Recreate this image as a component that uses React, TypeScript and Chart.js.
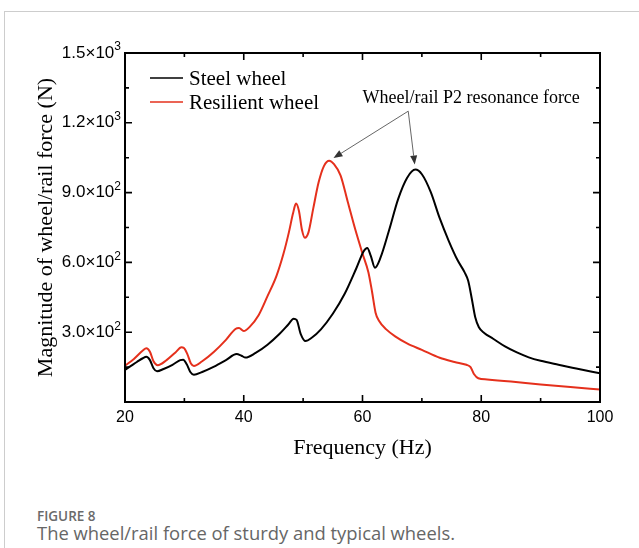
import { useEffect, useRef } from 'react';
import { Chart, registerables } from 'chart.js';

Chart.register(...registerables);

// ---- data ----
const steelFrequency = [
  20, 21, 22, 23, 23.6, 24.2, 24.8, 25.4, 26.5, 28, 29.3, 29.8, 30.4, 31, 31.6, 33, 35, 37, 38.8, 39.6,
  40.3, 42, 44, 46, 47.5, 48.4, 48.9, 49.6, 50.4, 51.5, 53, 55, 57, 59, 60.2, 60.8, 61.4, 62.1, 63, 64.5,
  66, 67.5, 68.9, 70, 71.5, 73, 74.5, 76, 77.2, 77.8, 78.4, 79, 79.6, 80.5, 82, 84, 86, 88, 90, 93, 96, 100,
];
const steelWheel = [
  138, 155, 172, 188, 194, 180, 145, 132, 142, 160, 180, 182, 162, 129, 117, 129, 152, 180, 206, 199,
  191, 211, 246, 292, 333, 358, 353, 292, 262, 277, 312, 379, 465, 577, 648, 662, 628, 577, 618, 740,
  872, 963, 999, 979, 902, 790, 694, 610, 557, 521, 445, 363, 321, 297, 272, 239, 213, 192, 177, 160, 144, 123,
];
const resilientFrequency = [
  20, 21.5, 23, 23.6, 24.2, 24.8, 25.5, 27, 28.5, 29.5, 29.9, 30.5, 31.1, 31.6, 33, 35, 37, 38.6, 39.2, 40,
  41, 42.5, 44, 45.5, 46.7, 47.6, 48.3, 48.8, 49.3, 49.8, 50.3, 50.9, 51.7, 52.6, 53.5, 54.4, 55.2, 56.3,
  57.5, 58.8, 60, 61, 61.6, 62.2, 62.8, 64, 65.5, 67.5, 70, 73, 75.5, 77.5, 78.2, 78.8, 79.5, 81, 85, 90, 95, 100,
];
const resilientWheel = [
  156, 185, 221, 231, 216, 175, 158, 180, 213, 235, 233, 206, 165, 155, 175, 216, 267, 314, 318, 305,
  323, 373, 455, 541, 638, 729, 811, 853, 821, 740, 706, 729, 831, 943, 1014, 1037, 1022, 974,
  862, 740, 638, 557, 475, 384, 348, 312, 282, 252, 224, 190, 172, 160, 150, 119, 102, 97, 88, 75, 64, 54,
];
const seriesNames = ['Steel wheel', 'Resilient wheel'];
const seriesColors = ['#000000', '#e5301c'];

const xMajorTicks = [20, 40, 60, 80, 100];
const xMinorTicks = [30, 50, 70, 90];
const yMajorTicks = [300, 600, 900, 1200, 1500];
const yMinorTicks = [150, 450, 750, 1050, 1350];
const yTickMantissas = ['3.0', '6.0', '9.0', '1.2', '1.5'];
const yTickExponents = ['2', '2', '2', '3', '3'];

const annotationText = 'Wheel/rail P2 resonance force';
const annotationTextAt = { x: 78.3, y: 1306 };
const annotationArrowFrom = { x: 67.7, y: 1250 };

const SERIF = '"Liberation Serif", "Times New Roman", serif';
const SANS = '"Liberation Sans", Arial, sans-serif';

const framePlugin = {
  id: 'frameAndExtras',
  afterDatasetsDraw(chart: any) {
    const { ctx, chartArea: a, scales } = chart;
    const xs = scales.x;
    const ys = scales.y;
    ctx.save();
    // frame
    ctx.strokeStyle = '#000';
    ctx.lineWidth = 2;
    ctx.strokeRect(a.left, a.top, a.right - a.left, a.bottom - a.top);
    // inward ticks
    ctx.lineWidth = 1.6;
    const xt = (v: number, len: number) => {
      const px = xs.getPixelForValue(v);
      ctx.beginPath();
      ctx.moveTo(px, a.bottom);
      ctx.lineTo(px, a.bottom - len);
      ctx.moveTo(px, a.top);
      ctx.lineTo(px, a.top + len);
      ctx.stroke();
    };
    const yt = (v: number, len: number) => {
      const py = ys.getPixelForValue(v);
      ctx.beginPath();
      ctx.moveTo(a.left, py);
      ctx.lineTo(a.left + len, py);
      ctx.moveTo(a.right, py);
      ctx.lineTo(a.right - len, py);
      ctx.stroke();
    };
    xMajorTicks.forEach((v) => xt(v, 7));
    xMinorTicks.forEach((v) => xt(v, 4));
    yMajorTicks.forEach((v) => yt(v, 7));
    yMinorTicks.forEach((v) => yt(v, 4));

    // y tick labels with superscript exponents
    ctx.fillStyle = '#000';
    ctx.textAlign = 'left';
    ctx.textBaseline = 'middle';
    yMajorTicks.forEach((v, i) => {
      const py = ys.getPixelForValue(v);
      const base = `${yTickMantissas[i]}×10`;
      ctx.font = `12px ${SANS}`;
      const supW = ctx.measureText(yTickExponents[i]).width;
      ctx.font = `17px ${SANS}`;
      const baseW = ctx.measureText(base).width;
      const right = a.left - 4;
      ctx.fillText(base, right - supW - baseW, py);
      ctx.font = `12px ${SANS}`;
      ctx.fillText(yTickExponents[i], right - supW, py - 6);
    });

    // legend
    ctx.font = `21px ${SERIF}`;
    ctx.textBaseline = 'middle';
    ctx.textAlign = 'left';
    chart.data.datasets.forEach((ds: any, i: number) => {
      const y = a.top + 25 + i * 24;
      ctx.strokeStyle = ds.borderColor;
      ctx.lineWidth = 1.5;
      ctx.beginPath();
      ctx.moveTo(a.left + 25, y);
      ctx.lineTo(a.left + 58, y);
      ctx.stroke();
      ctx.fillStyle = '#000';
      ctx.fillText(ds.label, a.left + 64, y + 1);
    });

    // annotation
    ctx.font = `18px ${SERIF}`;
    ctx.textAlign = 'center';
    ctx.fillStyle = '#000';
    ctx.fillText(annotationText, xs.getPixelForValue(annotationTextAt.x), ys.getPixelForValue(annotationTextAt.y));
    const ox = xs.getPixelForValue(annotationArrowFrom.x);
    const oy = ys.getPixelForValue(annotationArrowFrom.y);
    const peaks = [
      { f: steelFrequency, v: steelWheel },
      { f: resilientFrequency, v: resilientWheel },
    ].map((s) => {
      let k = 0;
      s.v.forEach((val, idx) => {
        if (val > s.v[k]) k = idx;
      });
      return { x: xs.getPixelForValue(s.f[k]), y: ys.getPixelForValue(s.v[k]) };
    });
    peaks.forEach((p) => {
      const dx = ox - p.x;
      const dy = oy - p.y;
      const d = Math.hypot(dx, dy);
      const ux = dx / d;
      const uy = dy / d;
      const tx = p.x + ux * 5;
      const ty = p.y + uy * 5;
      const hl = 9;
      const hw = 3.5;
      ctx.strokeStyle = '#555';
      ctx.lineWidth = 0.9;
      ctx.beginPath();
      ctx.moveTo(ox, oy);
      ctx.lineTo(tx + ux * hl, ty + uy * hl);
      ctx.stroke();
      ctx.fillStyle = '#333';
      ctx.beginPath();
      ctx.moveTo(tx, ty);
      ctx.lineTo(tx + ux * hl - uy * hw, ty + uy * hl + ux * hw);
      ctx.lineTo(tx + ux * hl + uy * hw, ty + uy * hl - ux * hw);
      ctx.closePath();
      ctx.fill();
    });
    ctx.restore();
  },
};

export default function App() {
  const ref = useRef<HTMLCanvasElement | null>(null);
  useEffect(() => {
    if (!ref.current) return;
    const chart = new Chart(ref.current, {
      type: 'line',
      data: {
        datasets: [
          {
            label: seriesNames[0],
            data: steelFrequency.map((f, i) => ({ x: f, y: steelWheel[i] })),
            borderColor: seriesColors[0],
            borderWidth: 2,
            pointRadius: 0,
            cubicInterpolationMode: 'monotone',
            fill: false,
          },
          {
            label: seriesNames[1],
            data: resilientFrequency.map((f, i) => ({ x: f, y: resilientWheel[i] })),
            borderColor: seriesColors[1],
            borderWidth: 2,
            pointRadius: 0,
            cubicInterpolationMode: 'monotone',
            fill: false,
          },
        ],
      },
      options: {
        animation: false,
        responsive: false,
        devicePixelRatio: 1,
        layout: { padding: { left: 0, top: 53, right: 39, bottom: 0 } },
        plugins: { legend: { display: false }, tooltip: { enabled: false } },
        scales: {
          x: {
            type: 'linear',
            min: 20,
            max: 100,
            grid: { display: false, drawTicks: false },
            border: { display: false },
            ticks: {
              stepSize: 20,
              autoSkip: false,
              maxRotation: 0,
              padding: 6,
              color: '#000',
              font: { family: SANS, size: 16 },
            },
            title: {
              display: true,
              text: 'Frequency (Hz)',
              color: '#000',
              font: { family: SERIF, size: 22 },
              padding: { top: 0, bottom: 9 },
            },
            afterFit: (s: any) => {
              s.height = 68;
            },
          },
          y: {
            type: 'linear',
            min: 0,
            max: 1500,
            grid: { display: false, drawTicks: false },
            border: { display: false },
            ticks: {
              display: false,
              stepSize: 300,
            },
            title: {
              display: true,
              text: 'Magnitude of wheel/rail force (N)',
              color: '#000',
              font: { family: SERIF, size: 22 },
              padding: { top: 33, bottom: 0 },
            },
            afterFit: (s: any) => {
              s.width = 125;
            },
          },
        },
      } as any,
      plugins: [framePlugin],
    });
    return () => chart.destroy();
  }, []);

  return (
    <div
      style={{
        position: 'absolute',
        left: 0,
        top: 0,
        width: 639,
        height: 548,
        background: '#fff',
        overflow: 'hidden',
      }}
    >
      <div
        style={{
          position: 'absolute',
          left: 4,
          top: 11,
          width: 700,
          height: 600,
          border: '1.5px solid #cdcdcd',
          boxSizing: 'border-box',
        }}
      />
      <canvas
        ref={ref}
        width={639}
        height={470}
        style={{ position: 'absolute', left: 0, top: 0, width: 639, height: 470 }}
      />
      <div
        style={{
          position: 'absolute',
          left: 37,
          top: 507,
          fontFamily: '"Open Sans", sans-serif',
          fontSize: 13.5,
          fontWeight: 600,
          color: '#6a6a6a',
          lineHeight: '18px',
          whiteSpace: 'nowrap',
        }}
      >
        FIGURE 8
      </div>
      <div
        style={{
          position: 'absolute',
          left: 37,
          top: 521,
          fontFamily: '"Open Sans", sans-serif',
          fontSize: 18.4,
          color: '#666666',
          lineHeight: '24px',
          whiteSpace: 'nowrap',
        }}
      >
        The wheel/rail force of sturdy and typical wheels.
      </div>
    </div>
  );
}
